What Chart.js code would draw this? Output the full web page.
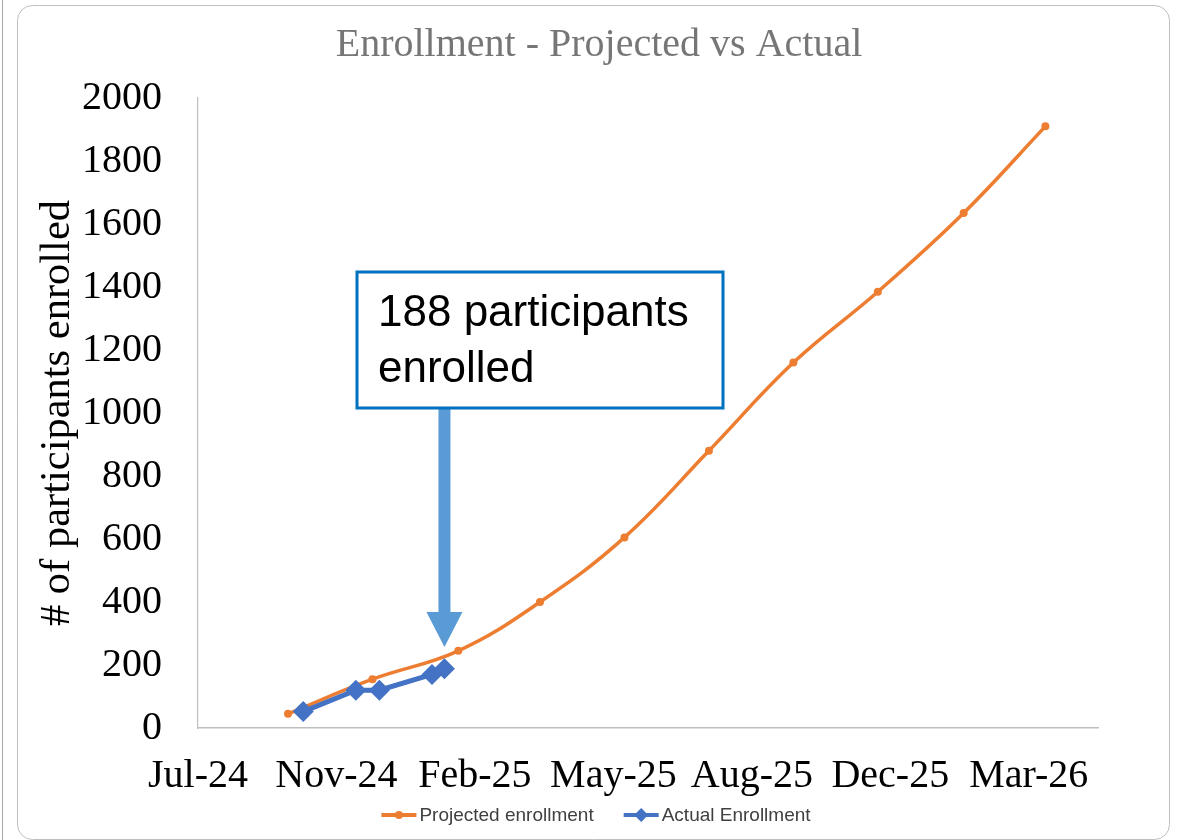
<!DOCTYPE html>
<html lang="en">
<head>
  <meta charset="UTF-8">
  <title>Enrollment - Projected vs Actual</title>
  <script src="https://cdn.jsdelivr.net/npm/chart.js"></script>
  <style>
    html, body { margin: 0; padding: 0; background: #fff; }
    #wrap { position: relative; width: 1179px; height: 840px; }
  </style>
</head>
<body>
  <div id="wrap"><canvas id="enrollChart"></canvas></div>

  <script>
    // projected enrollment, every other month (month end)
    var projectedDates = ['2024-09-30', '2024-11-30', '2025-01-31', '2025-03-31', '2025-05-31',
                          '2025-07-31', '2025-09-30', '2025-11-30', '2026-01-31', '2026-03-31'];
    var projectedValues = [45, 155, 245, 400, 605, 880, 1160, 1385, 1635, 1910];

    // actual enrollment so far
    var actualDates = ['2024-10-11', '2024-11-18', '2024-12-05', '2025-01-12', '2025-01-21'];
    var actualValues = [52, 120, 120, 170, 188];

    // axis: dates as Excel serial days, a label every 100 days
    var xAxisStart = '2024-07-27';
    var xAxisSpan = 650;
    var xStep = 100;
    var xTickLabels = ['Jul-24', 'Nov-24', 'Feb-25', 'May-25', 'Aug-25', 'Dec-25', 'Mar-26'];
    var yMax = 2000;
    var yStep = 200;

    var ORANGE = '#ED7D31';
    var BLUE = '#4472C4';
    var SERIF = '"Liberation Serif", "Times New Roman", serif';
    var SANS = '"Liberation Sans", Arial, sans-serif';

    function toSerial(iso) {
      var p = iso.split('-');
      return (Date.UTC(+p[0], +p[1] - 1, +p[2]) - Date.UTC(1899, 11, 30)) / 864e5;
    }

    function points(dates, values) {
      return dates.map(function (d, i) { return { x: toSerial(d), y: values[i] }; });
    }

    // frame, callout, arrow and legend - drawn like the Excel slide
    var notesPlugin = {
      id: 'notes',
      beforeDraw: function (chart) {
        var c = chart.ctx;
        c.save();
        c.fillStyle = '#fff';
        c.fillRect(0, 0, chart.width, chart.height);
        c.strokeStyle = '#A6A6A6';
        c.lineWidth = 1;
        c.beginPath();
        c.moveTo(2.5, 0);
        c.lineTo(2.5, chart.height);
        c.stroke();
        c.strokeStyle = '#BFBFBF';
        c.beginPath();
        c.roundRect(17.5, 5.5, 1152, 834, 15);
        c.stroke();
        c.restore();
      },
      afterDraw: function (chart) {
        var c = chart.ctx;
        var xs = chart.scales.x;
        var last = actualDates.length - 1;
        var ax = xs.getPixelForValue(toSerial(actualDates[last]));

        c.save();
        // arrow pointing down at the latest actual value
        c.fillStyle = '#5B9BD5';
        c.fillRect(ax - 6, 408, 12, 206);
        c.beginPath();
        c.moveTo(ax - 18, 612);
        c.lineTo(ax + 18, 612);
        c.lineTo(ax, 647);
        c.closePath();
        c.fill();

        // callout box
        c.fillStyle = '#fff';
        c.fillRect(357, 272, 366, 136);
        c.strokeStyle = '#0070C0';
        c.lineWidth = 3;
        c.strokeRect(357, 272, 366, 136);
        c.fillStyle = '#000';
        c.font = '44px ' + SANS;
        c.textBaseline = 'alphabetic';
        c.textAlign = 'left';
        c.fillText(actualValues[last] + ' participants', 378, 326);
        c.fillText('enrolled', 378, 382);

        // legend
        var ly = 815;
        c.font = '19px ' + SANS;
        c.textBaseline = 'middle';
        var items = chart.data.datasets.map(function (ds) {
          return { ds: ds, w: c.measureText(ds.label).width };
        });
        var lineLen = 35, gapText = 3, gapItem = 30;
        var total = gapItem * (items.length - 1);
        items.forEach(function (it) { total += lineLen + gapText + it.w; });
        var lx = 596 - total / 2;
        items.forEach(function (it) {
          var ds = it.ds;
          var mx = lx + lineLen / 2;
          c.strokeStyle = ds.borderColor;
          c.lineWidth = 4;
          c.beginPath();
          c.moveTo(lx, ly);
          c.lineTo(lx + lineLen, ly);
          c.stroke();
          c.fillStyle = ds.borderColor;
          c.beginPath();
          if (ds.pointStyle === 'rectRot') {
            c.moveTo(mx, ly - 7);
            c.lineTo(mx + 7, ly);
            c.lineTo(mx, ly + 7);
            c.lineTo(mx - 7, ly);
            c.closePath();
          } else {
            c.arc(mx, ly, 4, 0, Math.PI * 2);
          }
          c.fill();
          c.fillStyle = '#404040';
          c.fillText(ds.label, lx + lineLen + gapText, ly + 1);
          lx += lineLen + gapText + it.w + gapItem;
        });
        c.restore();
      }
    };

    var xMin = toSerial(xAxisStart);
    var ctx = document.getElementById('enrollChart').getContext('2d');

    var chart = new Chart(ctx, {
      type: 'line',
      data: {
        datasets: [{
          label: 'Projected enrollment',
          data: points(projectedDates, projectedValues),
          borderColor: ORANGE,
          backgroundColor: ORANGE,
          borderWidth: 3.5,
          pointStyle: 'circle',
          pointRadius: 4,
          pointHoverRadius: 4,
          pointBorderWidth: 0,
          pointBackgroundColor: ORANGE,
          tension: 0.4,
          order: 2
        }, {
          label: 'Actual Enrollment',
          data: points(actualDates, actualValues),
          borderColor: BLUE,
          backgroundColor: BLUE,
          borderWidth: 5,
          pointStyle: 'rectRot',
          pointRadius: 10.5,
          pointHoverRadius: 10.5,
          pointBorderWidth: 0,
          pointBackgroundColor: BLUE,
          tension: 0,
          order: 1
        }]
      },
      options: {
        responsive: true,
        maintainAspectRatio: false,
        animation: false,
        events: [],
        layout: { padding: { left: 19, right: 0, top: 0, bottom: 0 } },
        plugins: {
          legend: { display: false },
          tooltip: { enabled: false },
          title: {
            display: true,
            text: 'Enrollment - Projected vs Actual',
            color: '#767676',
            font: { family: SERIF, size: 40, weight: 'normal' },
            padding: { top: 21, bottom: 29 }
          }
        },
        scales: {
          x: {
            type: 'linear',
            min: xMin,
            max: xMin + xAxisSpan,
            grid: { display: false, drawTicks: false },
            border: { color: '#BFBFBF', width: 1.5 },
            ticks: {
              stepSize: xStep,
              includeBounds: false,
              autoSkip: false,
              maxRotation: 0,
              padding: 24,
              color: '#000',
              font: { family: SERIF, size: 40 },
              callback: function (v, i) { return xTickLabels[i]; }
            },
            afterFit: function (s) { s.height = 112; }
          },
          y: {
            min: 0,
            max: yMax,
            grid: { display: false, drawTicks: false },
            border: { color: '#BFBFBF', width: 1.2 },
            ticks: {
              stepSize: yStep,
              padding: 36,
              color: '#000',
              font: { family: SERIF, size: 40 },
              callback: function (v) { return String(v); }
            },
            title: {
              display: true,
              text: '# of participants enrolled',
              color: '#000',
              font: { family: SERIF, size: 42.5 },
              padding: { top: 13, bottom: 0 }
            },
            afterFit: function (s) { s.width = 179; }
          },
          y2: {
            position: 'right',
            grid: { display: false, drawTicks: false },
            border: { display: false },
            ticks: { display: false },
            afterFit: function (s) { s.width = 81; }
          }
        }
      },
      plugins: [notesPlugin]
    });
  </script>
</body>
</html>
